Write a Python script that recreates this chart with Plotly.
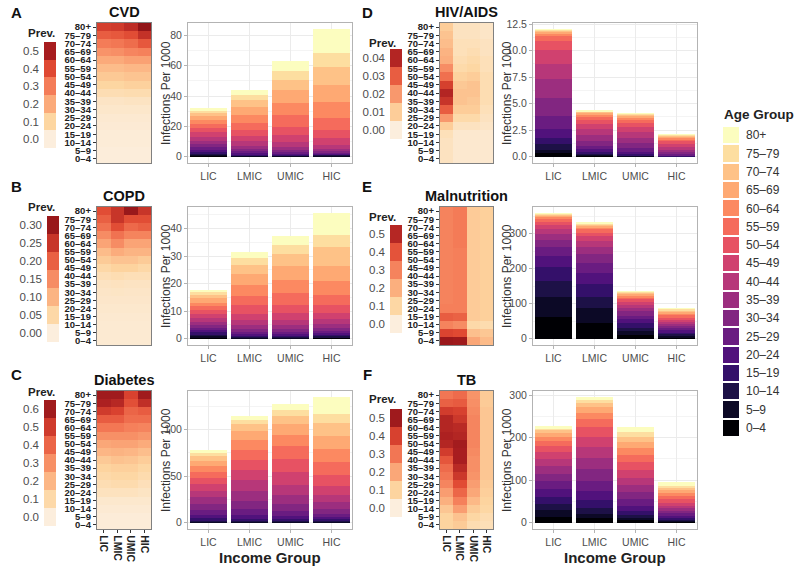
import plotly.graph_objects as go

W, H = 799, 569

# ---------------- data ----------------
AGE_GROUPS = ["0–4", "5–9", "10–14", "15–19", "20–24", "25–29", "30–34", "35–39",
              "40–44", "45–49", "50–54", "55–59", "60–64", "65–69", "70–74", "75–79", "80+"]
INCOME_GROUPS = ["LIC", "LMIC", "UMIC", "HIC"]

# prevalence (heatmaps), one list per income group, ages 0–4 ... 80+
CVD_PREV = [
    [0.005, 0.005, 0.01, 0.01, 0.015, 0.02, 0.03, 0.04, 0.07, 0.10, 0.13, 0.16, 0.20, 0.25, 0.30, 0.36, 0.42],
    [0.005, 0.005, 0.01, 0.01, 0.015, 0.02, 0.03, 0.04, 0.07, 0.10, 0.13, 0.16, 0.20, 0.26, 0.31, 0.37, 0.43],
    [0.005, 0.005, 0.01, 0.01, 0.015, 0.02, 0.03, 0.045, 0.075, 0.11, 0.14, 0.17, 0.22, 0.28, 0.33, 0.39, 0.46],
    [0.005, 0.005, 0.01, 0.01, 0.015, 0.02, 0.03, 0.045, 0.075, 0.11, 0.14, 0.17, 0.22, 0.29, 0.37, 0.45, 0.55],
]
COPD_PREV = [
    [0.01, 0.01, 0.01, 0.012, 0.015, 0.018, 0.02, 0.025, 0.035, 0.05, 0.07, 0.09, 0.12, 0.15, 0.18, 0.20, 0.22],
    [0.01, 0.01, 0.01, 0.012, 0.015, 0.018, 0.022, 0.028, 0.04, 0.06, 0.08, 0.11, 0.15, 0.18, 0.22, 0.25, 0.25],
    [0.01, 0.01, 0.01, 0.012, 0.015, 0.018, 0.02, 0.025, 0.035, 0.06, 0.08, 0.10, 0.12, 0.16, 0.19, 0.22, 0.30],
    [0.01, 0.01, 0.01, 0.012, 0.015, 0.018, 0.02, 0.025, 0.035, 0.05, 0.07, 0.10, 0.12, 0.16, 0.20, 0.22, 0.25],
]
DIAB_PREV = [
    [0.01, 0.01, 0.02, 0.03, 0.06, 0.08, 0.10, 0.12, 0.15, 0.20, 0.24, 0.30, 0.36, 0.42, 0.50, 0.57, 0.60],
    [0.01, 0.01, 0.02, 0.03, 0.06, 0.09, 0.11, 0.13, 0.17, 0.21, 0.25, 0.30, 0.36, 0.42, 0.48, 0.55, 0.60],
    [0.01, 0.01, 0.02, 0.03, 0.06, 0.09, 0.11, 0.13, 0.16, 0.20, 0.25, 0.30, 0.34, 0.38, 0.40, 0.45, 0.48],
    [0.01, 0.01, 0.02, 0.03, 0.05, 0.07, 0.09, 0.11, 0.14, 0.18, 0.23, 0.28, 0.33, 0.38, 0.42, 0.53, 0.60],
]
HIV_PREV = [
    [0.004, 0.004, 0.004, 0.005, 0.010, 0.020, 0.030, 0.037, 0.040, 0.035, 0.027, 0.022, 0.016, 0.015, 0.013, 0.012, 0.010],
    [0.002, 0.002, 0.002, 0.002, 0.004, 0.007, 0.010, 0.012, 0.012, 0.011, 0.009, 0.007, 0.006, 0.005, 0.005, 0.004, 0.004],
    [0.002, 0.002, 0.002, 0.002, 0.004, 0.007, 0.010, 0.011, 0.012, 0.012, 0.010, 0.008, 0.007, 0.006, 0.005, 0.004, 0.004],
    [0.002, 0.002, 0.002, 0.002, 0.003, 0.004, 0.005, 0.006, 0.006, 0.006, 0.006, 0.005, 0.005, 0.004, 0.004, 0.003, 0.003],
]
MALN_PREV = [
    [0.56, 0.43, 0.30, 0.38, 0.31, 0.30, 0.30, 0.30, 0.30, 0.30, 0.30, 0.30, 0.30, 0.30, 0.30, 0.30, 0.30],
    [0.55, 0.42, 0.28, 0.37, 0.31, 0.31, 0.31, 0.31, 0.31, 0.31, 0.31, 0.31, 0.32, 0.32, 0.32, 0.32, 0.32],
    [0.22, 0.16, 0.09, 0.13, 0.13, 0.13, 0.13, 0.13, 0.13, 0.13, 0.13, 0.13, 0.13, 0.13, 0.13, 0.13, 0.13],
    [0.17, 0.14, 0.08, 0.12, 0.12, 0.12, 0.12, 0.12, 0.12, 0.12, 0.12, 0.12, 0.12, 0.12, 0.12, 0.12, 0.12],
]
TB_PREV = [
    [0.10, 0.10, 0.13, 0.18, 0.22, 0.27, 0.30, 0.32, 0.36, 0.41, 0.46, 0.47, 0.46, 0.46, 0.41, 0.34, 0.30],
    [0.12, 0.14, 0.22, 0.28, 0.33, 0.38, 0.42, 0.45, 0.48, 0.48, 0.49, 0.46, 0.45, 0.42, 0.40, 0.35, 0.32],
    [0.07, 0.09, 0.12, 0.16, 0.20, 0.22, 0.24, 0.25, 0.25, 0.26, 0.27, 0.27, 0.27, 0.27, 0.26, 0.25, 0.24],
    [0.06, 0.07, 0.09, 0.10, 0.11, 0.12, 0.13, 0.13, 0.13, 0.13, 0.13, 0.13, 0.13, 0.13, 0.13, 0.12, 0.12],
]

# infections per 1000 (stacked bars), one list per income group, ages 0–4 ... 80+
CVD_RATE = [
    [0.6, 0.6, 0.8, 1.1, 1.4, 1.7, 2.0, 2.4, 2.6, 2.8, 2.8, 2.8, 2.8, 2.5, 2.0, 1.5, 1.5],
    [0.3, 0.3, 0.4, 0.6, 0.8, 1.0, 1.5, 2.2, 3.0, 3.5, 4.3, 4.3, 5.4, 5.4, 4.3, 3.7, 2.8],
    [0.3, 0.3, 0.4, 0.5, 0.6, 0.8, 1.5, 2.2, 3.3, 4.3, 5.4, 8.0, 7.6, 8.9, 6.5, 5.9, 6.5],
    [0.4, 0.4, 0.4, 0.5, 0.5, 0.6, 0.7, 1.5, 2.8, 4.4, 5.2, 8.3, 10.2, 11.5, 12.0, 9.1, 15.5],
]
COPD_RATE = [
    [0.5, 0.5, 0.6, 0.7, 0.8, 0.9, 1.0, 1.1, 1.3, 1.4, 1.5, 1.4, 1.4, 1.5, 1.3, 1.0, 0.9],
    [0.2, 0.2, 0.3, 0.5, 0.6, 0.8, 1.0, 1.3, 1.8, 2.4, 3.0, 3.5, 4.0, 4.0, 3.2, 2.5, 2.0],
    [0.2, 0.2, 0.3, 0.5, 0.6, 0.8, 1.0, 1.3, 1.8, 2.5, 3.2, 4.2, 4.8, 5.0, 4.2, 3.3, 3.5],
    [0.3, 0.3, 0.4, 0.5, 0.6, 0.8, 1.0, 1.3, 1.8, 2.4, 2.9, 3.5, 5.3, 5.3, 6.8, 4.4, 7.9],
]
DIAB_RATE = [
    [0.5, 0.6, 1.2, 2.5, 4.0, 5.3, 6.3, 6.8, 7.0, 7.0, 7.0, 6.8, 6.3, 5.5, 4.5, 3.5, 3.5],
    [0.6, 0.6, 1.0, 2.2, 4.0, 6.3, 8.8, 10.5, 11.6, 11.2, 10.5, 11.2, 10.9, 9.5, 7.0, 4.2, 4.6],
    [0.6, 0.6, 1.0, 2.0, 3.5, 5.3, 7.0, 9.5, 11.6, 13.0, 14.0, 14.0, 12.6, 11.2, 8.8, 6.3, 7.0],
    [0.5, 0.5, 1.0, 1.5, 2.5, 3.5, 5.3, 7.0, 8.0, 9.5, 11.6, 14.0, 14.7, 14.0, 13.3, 10.5, 17.5],
]
HIV_RATE = [
    [0.35, 0.32, 0.48, 0.63, 0.80, 1.27, 1.65, 1.84, 1.43, 1.27, 0.90, 0.44, 0.23, 0.18, 0.10, 0.07, 0.05],
    [0.10, 0.08, 0.10, 0.15, 0.25, 0.35, 0.45, 0.55, 0.55, 0.50, 0.40, 0.30, 0.20, 0.15, 0.10, 0.07, 0.05],
    [0.05, 0.04, 0.06, 0.10, 0.20, 0.35, 0.45, 0.50, 0.55, 0.50, 0.40, 0.30, 0.22, 0.15, 0.10, 0.08, 0.05],
    [0.01, 0.01, 0.02, 0.03, 0.08, 0.13, 0.17, 0.20, 0.25, 0.27, 0.26, 0.22, 0.17, 0.12, 0.08, 0.05, 0.03],
]
MALN_RATE = [
    [61, 59, 44, 40, 32, 26, 20.5, 17, 14, 11, 9.3, 7.5, 6.5, 4, 3, 2, 1.5],
    [45, 43, 30, 38, 33, 28, 25, 20, 16, 14, 11, 9, 7, 5, 3.5, 2.5, 1.5],
    [11, 12, 9, 12, 11, 11, 12, 9.5, 9.5, 8.5, 7.5, 6, 5.5, 4, 3, 2, 1.5],
    [4, 5, 4.5, 5, 5.5, 6, 6, 6, 6, 6, 6.5, 6.5, 6, 5, 4, 3, 2.5],
]
TB_RATE = [
    [14, 15.5, 15.5, 15.5, 18, 18.6, 18, 18, 17, 15.5, 14, 13, 10, 9.3, 6.2, 4.6, 4],
    [10, 11, 14, 18, 22, 24, 27, 27, 26, 23, 22, 19, 16, 13, 10, 7, 6],
    [6, 6, 7, 9, 12, 15, 17, 17, 17, 18, 18, 17, 17, 14, 12, 11, 12],
    [2, 2.5, 3, 4, 5, 5.5, 6, 6, 6.5, 7, 7.5, 7.5, 7, 7, 6, 5, 8],
]

# legend break values of the prevalence keys
CVD_BREAKS = [0.0, 0.1, 0.2, 0.3, 0.4, 0.5]
COPD_BREAKS = [0.0, 0.05, 0.10, 0.15, 0.20, 0.25, 0.30]
DIAB_BREAKS = [0.0, 0.1, 0.2, 0.3, 0.4, 0.5, 0.6]
HIV_BREAKS = [0.0, 0.01, 0.02, 0.03, 0.04]
MALN_BREAKS = [0.0, 0.1, 0.2, 0.3, 0.4, 0.5]
TB_BREAKS = [0.0, 0.1, 0.2, 0.3, 0.4, 0.5]

# ---------------- styles ----------------
AGE_COLORS = ["#000004", "#0C0926", "#1D1147", "#34106A", "#51127C", "#6A1C81", "#822681",
              "#9C2E7F", "#B73779", "#D0416F", "#E75263", "#F56B5C", "#FC8961", "#FEA973",
              "#FEC287", "#FDDEA0", "#FCFDBF"]
PREV_COLORSCALE = [[0.0, "#FCEEDD"], [0.18, "#FDD6A1"], [0.36, "#FBAB7B"], [0.55, "#F47B57"],
                   [0.73, "#DF4731"], [0.9, "#A91E20"], [1.0, "#921518"]]
FONT = "Liberation Sans, Arial, sans-serif"
GREY_TXT = "#4D4D4D"

COLS = [
    dict(letter_x=16, prev_x=26, heat_x=(97, 151), bar_x=(188, 352), ytitle_x=166),
    dict(letter_x=367, prev_x=367, heat_x=(440, 493), bar_x=(533, 697), ytitle_x=507),
]
ROWS = [
    dict(plot_y=(23, 163), letter_y=13, title_y=12),
    dict(plot_y=(207, 345), letter_y=187, title_y=196),
    dict(plot_y=(391, 529), letter_y=374, title_y=380),
]

PANELS = [
    dict(letter="A", title="CVD", prev=CVD_PREV, rate=CVD_RATE, breaks=CVD_BREAKS, fmt=".1f",
         zmax=0.55, dtick=20, yfmt="d", col=0, row=0, leg=(33, 42, 148), legx=(44, 56)),
    dict(letter="B", title="COPD", prev=COPD_PREV, rate=COPD_RATE, breaks=COPD_BREAKS, fmt=".2f",
         zmax=0.31, dtick=10, yfmt="d", col=0, row=1, leg=(207, 216, 342), legx=(47, 59)),
    dict(letter="C", title="Diabetes", prev=DIAB_PREV, rate=DIAB_RATE, breaks=DIAB_BREAKS, fmt=".1f",
         zmax=0.64, dtick=50, yfmt="d", col=0, row=2, leg=(392, 400, 526), legx=(44, 56)),
    dict(letter="D", title="HIV/AIDS", prev=HIV_PREV, rate=HIV_RATE, breaks=HIV_BREAKS, fmt=".2f",
         zmax=0.046, dtick=2.5, yfmt=".1f", col=1, row=0, leg=(43, 49, 139), legx=(390, 402)),
    dict(letter="E", title="Malnutrition", prev=MALN_PREV, rate=MALN_RATE, breaks=MALN_BREAKS, fmt=".1f",
         zmax=0.58, dtick=100, yfmt="d", col=1, row=1, leg=(217, 225, 333), legx=(390, 402)),
    dict(letter="F", title="TB", prev=TB_PREV, rate=TB_RATE, breaks=TB_BREAKS, fmt=".1f",
         zmax=0.53, dtick=100, yfmt="d", col=1, row=2, leg=(399, 409, 517), legx=(390, 402)),
]

fig = go.Figure()
layout = {}
annotations = []
counter = [0]


def px_x(p):
    return p / W


def px_y(p):
    return 1 - p / H


def new_axes(xpix, ypix, xopts, yopts):
    counter[0] += 1
    n = counter[0]
    sfx = "" if n == 1 else str(n)
    xa = dict(domain=[px_x(xpix[0]), px_x(xpix[1])], anchor="y" + sfx, automargin=False)
    ya = dict(domain=[px_y(ypix[1]), px_y(ypix[0])], anchor="x" + sfx, automargin=False)
    xa.update(xopts)
    ya.update(yopts)
    layout["xaxis" + sfx] = xa
    layout["yaxis" + sfx] = ya
    return "x" + sfx, "y" + sfx


def ann(text, x, y, size, color="#000000", bold=False, xanchor="center", angle=0, family=FONT):
    annotations.append(dict(text=text, x=px_x(x), y=px_y(y), xref="paper", yref="paper",
                            showarrow=False, xanchor=xanchor, yanchor="middle", textangle=angle,
                            font=dict(size=size, color=color, family=family,
                                      weight="bold" if bold else "normal")))


for p in PANELS:
    c = COLS[p["col"]]
    r = ROWS[p["row"]]
    last_row = p["row"] == 2

    # ---- prevalence key ----
    brk = p["breaks"]
    step = brk[1] - brk[0]
    xr, yr = new_axes(p["legx"], (p["leg"][1], p["leg"][2]),
                      dict(range=[-0.5, 0.5], visible=False, fixedrange=True),
                      dict(range=[brk[0] - step / 2, brk[-1] + step / 2], tickvals=brk,
                           tickformat=p["fmt"], ticks="", showgrid=False, zeroline=False,
                           showline=False, ticklabelstandoff=4,
                           tickfont=dict(size=11.5, color=GREY_TXT, family=FONT)))
    fig.add_trace(go.Heatmap(x=[0], y=brk, z=[[v] for v in brk], colorscale=PREV_COLORSCALE,
                             zmin=0, zmax=p["zmax"], showscale=False, xaxis=xr, yaxis=yr,
                             hoverinfo="skip"))
    ann("Prev.", c["prev_x"], p["leg"][0], 11.5, "#222222", True, "left")

    # ---- heatmap ----
    z = [[p["prev"][i][a] for i in range(len(INCOME_GROUPS))] for a in range(len(AGE_GROUPS))]
    xr, yr = new_axes(c["heat_x"], r["plot_y"],
                      dict(type="category", showgrid=False, zeroline=False, showline=True, mirror=True,
                           linecolor="#808080", linewidth=1.3, showticklabels=last_row,
                           ticks="outside" if last_row else "", ticklen=3, tickcolor="#333333",
                           tickangle=90, tickmode="linear", dtick=1, tick0=0,
                           tickfont=dict(size=10.5, color="#222222", family=FONT, weight="bold")),
                      dict(type="category", showgrid=False, zeroline=False, showline=True, mirror=True,
                           linecolor="#808080", linewidth=1.3, ticks="outside", ticklen=3,
                           tickcolor="#333333", tickmode="linear", dtick=1, tick0=0,
                           tickfont=dict(size=9.5, color="#222222", family=FONT, weight="bold")))
    fig.add_trace(go.Heatmap(x=INCOME_GROUPS, y=AGE_GROUPS, z=z, colorscale=PREV_COLORSCALE,
                             zmin=0, zmax=p["zmax"], showscale=False, xaxis=xr, yaxis=yr))
    ann(p["title"], (c["heat_x"][0] + c["heat_x"][1]) / 2, r["title_y"], 14.5, "#111111", True)
    ann(p["letter"], c["letter_x"], r["letter_y"], 15, "#111111", True)

    # ---- stacked bars ----
    totals = [sum(p["rate"][i]) for i in range(len(INCOME_GROUPS))]
    m = max(totals)
    xr, yr = new_axes(c["bar_x"], r["plot_y"],
                      dict(type="category", showgrid=True, gridcolor="#EBEBEB", gridwidth=1,
                           zeroline=False, showline=True, mirror=True, linecolor="#B3B3B3", linewidth=1,
                           ticks="outside", ticklen=3, tickcolor="#B3B3B3",
                           tickfont=dict(size=10.5, color=GREY_TXT, family=FONT)),
                      dict(range=[-0.05 * m, 1.05 * m], dtick=p["dtick"], tick0=0, tickformat=p["yfmt"],
                           showgrid=True, gridcolor="#EBEBEB", gridwidth=1, zeroline=False,
                           showline=True, mirror=True, linecolor="#B3B3B3", linewidth=1,
                           ticks="outside", ticklen=3, tickcolor="#B3B3B3",
                           minor=dict(dtick=p["dtick"] / 2, tick0=0, showgrid=True,
                                      gridcolor="#F4F4F4", gridwidth=0.6, ticks=""),
                           tickfont=dict(size=10.5, color=GREY_TXT, family=FONT)))
    for a, age in enumerate(AGE_GROUPS):
        fig.add_trace(go.Bar(x=INCOME_GROUPS, y=[p["rate"][i][a] for i in range(len(INCOME_GROUPS))],
                             name=age, marker=dict(color=AGE_COLORS[a], line=dict(width=0)),
                             showlegend=False, xaxis=xr, yaxis=yr))
    ann("Infections Per 1000", c["ytitle_x"], (r["plot_y"][0] + r["plot_y"][1]) / 2, 12, "#333333",
        False, "center", -90)
    if last_row:
        ann("Income Group", (c["bar_x"][0] + c["bar_x"][1]) / 2, 557, 15, "#222222", True)

# ---- Age Group key ----
xr, yr = new_axes((723, 739), (126, 437),
                  dict(range=[-0.5, 0.5], visible=False, fixedrange=True),
                  dict(type="category", side="right", showgrid=False, zeroline=False, showline=False,
                       ticks="", ticklabelstandoff=6, tickmode="linear", dtick=1, tick0=0,
                       tickfont=dict(size=12, color="#333333", family=FONT)))
fig.add_trace(go.Heatmap(x=[0], y=AGE_GROUPS, z=[[i] for i in range(len(AGE_GROUPS))],
                         colorscale=[[i / (len(AGE_COLORS) - 1), col] for i, col in enumerate(AGE_COLORS)],
                         zmin=0, zmax=len(AGE_COLORS) - 1, ygap=2, showscale=False,
                         xaxis=xr, yaxis=yr, hoverinfo="skip"))
ann("Age Group", 722, 115, 13.5, "#222222", True, "left")

fig.update_layout(**layout)
fig.update_layout(width=W, height=H, margin=dict(l=0, r=0, t=0, b=0, autoexpand=False),
                  barmode="stack", bargap=0.1,
                  plot_bgcolor="white", paper_bgcolor="white", showlegend=False,
                  annotations=annotations, font=dict(family=FONT))
# the browser's default 8px body margin would push the 799x569 figure off the page
fig.write_html("out.html", config={"displayModeBar": False},
               post_script="document.body.style.margin='0';")
